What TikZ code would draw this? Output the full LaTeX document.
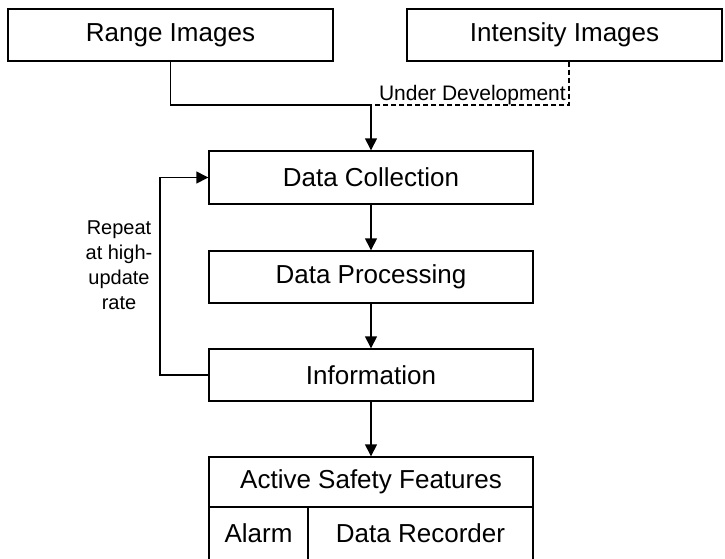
\documentclass[tikz,border=0pt]{standalone}
\usepackage{fontspec}
\setmainfont{Liberation Sans}
\usetikzlibrary{arrows.meta}
\begin{document}
\begin{tikzpicture}[x=1pt,y=-1pt,
  box/.style={draw, line width=1.4pt, inner sep=0pt, font=\fontsize{26}{31}\selectfont},
  conn/.style={line width=1.4pt},
  arr/.style={conn, -{Triangle[length=12pt,width=12pt]}},
  small/.style={font=\fontsize{20}{25}\selectfont, inner sep=0pt}]
\useasboundingbox (0,0) rectangle (725,558);
\clip (0,0) rectangle (725,558);
\node[box, minimum width=325pt, minimum height=52pt] (range) at (170.5,35) {Range Images};
\node[box, minimum width=315pt, minimum height=52pt] (inten) at (564.5,35) {Intensity Images};
\node[box, minimum width=324pt, minimum height=53pt] (dc) at (371,177.5) {Data Collection};
\node[box, minimum width=324pt, minimum height=52pt] (dp) at (371,277) {Data Processing};
\node[box, minimum width=324pt, minimum height=52pt] (info) at (371,375) {Information};
\node[box, minimum width=324pt, minimum height=50pt] (asf) at (371,482) {Active Safety Features};
\node[box, minimum width=99pt, minimum height=63pt] (alarm) at (258.5,538.5) {};
\node[box, minimum width=225pt, minimum height=63pt] (rec) at (420.5,538.5) {};
\node[font=\fontsize{26}{31}\selectfont, inner sep=0pt] (alarmt) at (258.5,533) {Alarm};
\node[font=\fontsize{26}{31}\selectfont, inner sep=0pt] (rect) at (420.5,533) {Data Recorder};
\coordinate (j) at (371,105);
\coordinate (d) at (569,105);
\coordinate (l) at (160,375);
\draw[conn] (range.south) |- (j);
\draw[arr] (j) -- (dc.north);
\draw[conn, dash pattern=on 5pt off 3pt] ([xshift=4.5pt]inten.south) -- (d) -- (j);
\node[small, font=\fontsize{21}{25}\selectfont, anchor=base east] (ud) at (566,100) {Under Development};
\draw[arr] (dc.south) -- (dp.north);
\draw[arr] (dp.south) -- (info.north);
\draw[arr] (info.south) -- (asf.north);
\draw[arr] (info.west) -- (l) |- (dc.west);
\node[small, align=center] (rep) at (119,265) {Repeat\\at high-\\update\\rate};
\end{tikzpicture}
\end{document}
